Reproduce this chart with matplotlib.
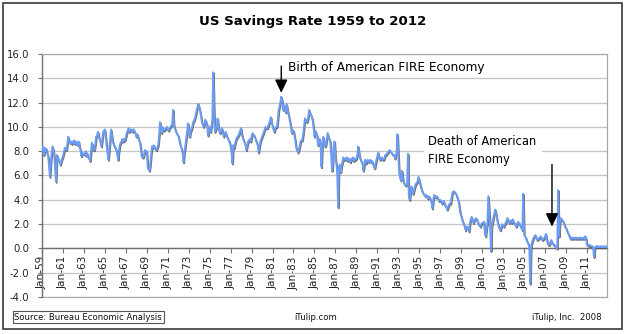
import numpy as np
import matplotlib
matplotlib.use('Agg')
import matplotlib.pyplot as plt
import matplotlib.patheffects as pe
from matplotlib.patches import Rectangle

plt.rcParams['font.family'] = 'DejaVu Sans'
plt.rcParams['axes.unicode_minus'] = False

# personal saving rate, percent, monthly from Jan 1959
rate_1959 = [8.0, 8.4, 7.7, 8.3, 8.0, 8.2, 7.8, 7.6, 6.8, 5.9, 7.0, 7.9]
rate_1960s = [
    8.4, 8.1, 7.6, 6.5, 5.5, 7.7, 7.5, 7.3, 7.1, 6.9, 7.2, 7.4,
    7.6, 7.9, 8.3, 8.2, 8.1, 8.6, 9.2, 8.9, 8.7, 8.8, 8.6, 8.8,
    8.7, 8.9, 8.6, 8.8, 8.7, 8.5, 8.8, 8.4, 8.1, 7.6, 7.9, 7.8,
    7.8, 7.7, 8.0, 7.6, 7.8, 7.5, 7.4, 7.2, 7.9, 8.7, 8.3, 8.1,
    8.1, 8.6, 9.2, 9.3, 9.6, 9.2, 9.0, 8.7, 8.4, 9.0, 9.6, 9.7,
    9.8, 9.1, 8.4, 7.8, 7.3, 8.2, 9.0, 9.8, 9.3, 8.8, 8.6, 8.4,
    8.3, 8.1, 7.8, 7.3, 8.0, 8.5, 8.7, 8.8, 9.0, 8.8, 9.0, 8.9,
    9.2, 9.5, 9.7, 9.9, 9.6, 9.8, 9.7, 9.8, 9.6, 9.8, 9.6, 9.5,
    9.2, 9.4, 9.2, 8.9, 8.8, 8.3, 7.6, 7.5, 7.5, 7.8, 8.1, 8.0,
    8.0, 6.7, 6.5, 6.4, 7.0, 7.8, 8.4, 8.3, 8.5, 8.3, 8.2, 8.1,
]
rate_1970s = [
    8.3, 8.5, 9.2, 10.4, 10.0, 9.5, 10.0, 9.8, 9.7, 9.8, 9.9, 10.0,
    9.8, 9.7, 9.9, 10.0, 10.1, 10.2, 11.4, 10.2, 9.9, 9.7, 9.5, 9.4,
    9.3, 9.0, 8.6, 8.4, 8.2, 7.8, 7.1, 7.9, 8.4, 9.0, 9.5, 10.3,
    9.8, 9.2, 9.6, 9.8, 10.0, 10.4, 10.5, 10.7, 11.0, 11.4, 11.6, 11.9,
    11.6, 11.3, 10.9, 10.4, 10.2, 10.0, 10.3, 10.6, 10.4, 10.2, 9.3, 9.8,
    10.0, 9.6, 10.1, 10.6, 14.5, 11.4, 9.6, 9.8, 10.0, 10.7, 10.1, 9.6,
    9.5, 9.7, 9.9, 9.6, 9.2, 9.4, 9.6, 9.4, 9.2, 9.0, 8.9, 8.7,
    8.4, 7.9, 7.0, 8.5, 8.3, 8.6, 8.9, 9.1, 9.2, 9.3, 9.5, 9.7,
    9.9, 9.3, 9.1, 8.9, 8.7, 8.5, 8.1, 8.5, 8.8, 8.9, 9.0, 8.8,
    9.2, 9.5, 9.4, 9.3, 9.1, 8.9, 8.7, 8.5, 7.9, 8.4, 8.8, 9.0,
]
rate_1980s = [
    9.2, 9.4, 9.6, 9.8, 10.0, 9.9, 9.9, 10.1, 10.3, 10.5, 10.8, 10.3,
    10.1, 9.8, 9.6, 9.9, 10.0, 10.0, 10.6, 11.4, 11.7, 12.1, 12.5, 12.2,
    11.4, 11.8, 11.5, 11.2, 11.9, 11.5, 11.1, 10.8, 10.4, 10.0, 9.5, 9.7,
    9.7, 9.3, 8.9, 8.3, 8.1, 7.9, 8.1, 8.4, 8.8, 8.9, 8.9, 9.4,
    10.0, 10.7, 10.5, 10.4, 10.5, 10.9, 11.4, 11.1, 11.0, 10.8, 10.5, 9.9,
    9.2, 9.7, 9.5, 9.3, 8.5, 8.8, 9.0, 8.4, 6.7, 8.5, 9.2, 8.8,
    8.4, 8.5, 9.0, 9.5, 9.2, 9.0, 8.8, 7.8, 6.4, 7.0, 8.4, 8.8,
    7.5, 7.0, 6.2, 3.4, 6.7, 6.9, 6.3, 6.8, 7.1, 7.5, 7.3, 7.4,
    7.3, 7.5, 7.2, 7.4, 7.3, 7.1, 7.4, 7.3, 7.5, 7.2, 7.4, 7.3,
    7.4, 7.7, 8.4, 7.9, 7.5, 7.3, 7.1, 7.0, 6.4, 6.9, 7.3, 7.0,
]
rate_1990s = [
    7.2, 7.3, 7.1, 7.2, 7.3, 7.1, 7.2, 7.0, 6.7, 6.6, 7.0, 7.3,
    7.6, 7.9, 7.5, 7.3, 7.4, 7.5, 7.3, 7.3, 7.4, 7.7, 7.7, 7.8,
    7.9, 8.0, 8.1, 8.0, 7.9, 7.8, 7.7, 7.7, 7.4, 7.6, 7.9, 9.4,
    7.8, 6.2, 5.8, 5.6, 6.4, 5.9, 5.5, 5.3, 5.2, 5.2, 5.3, 7.8,
    4.3, 4.0, 4.6, 5.1, 4.7, 4.5, 4.8, 5.1, 5.3, 5.4, 5.5, 5.9,
    5.6, 5.3, 5.0, 4.8, 4.6, 4.5, 4.4, 4.3, 4.4, 4.2, 4.1, 4.3,
    4.2, 4.0, 3.8, 3.3, 4.0, 4.4, 4.3, 4.2, 4.3, 4.2, 4.0, 3.9,
    4.0, 3.9, 3.7, 3.8, 3.9, 3.7, 3.5, 3.4, 3.2, 3.4, 3.6, 3.7,
    3.7, 4.2, 4.6, 4.7, 4.7, 4.6, 4.5, 4.3, 4.1, 3.9, 3.4, 2.9,
    2.7, 2.4, 2.2, 2.0, 1.8, 1.5, 1.7, 1.8, 1.6, 1.4, 2.1, 2.4,
]
rate_2000s = [
    2.6, 2.3, 2.1, 2.3, 2.4, 2.5, 2.4, 2.2, 2.0, 1.9, 1.8, 2.0,
    2.1, 2.1, 2.2, 1.3, 1.0, 1.6, 2.1, 4.3, 3.2, 2.1, -0.2, 1.8,
    2.2, 2.6, 2.9, 3.2, 2.9, 2.4, 2.1, 1.8, 1.6, 1.5, 1.8, 2.0,
    1.9, 1.8, 2.0, 2.1, 2.3, 2.5, 2.3, 2.1, 2.2, 2.3, 2.1, 2.4,
    2.2, 2.1, 1.9, 1.8, 2.0, 2.2, 2.1, 2.0, 1.8, 1.7, 1.5, 4.5,
    1.2, 1.0, 0.9, 0.7, 0.5, 0.4, 0.1, -2.9, 0.1, 0.5, 0.7, 0.9,
    1.0, 1.1, 0.9, 0.7, 0.8, 0.8, 0.9, 1.0, 0.8, 0.7, 0.8, 0.8,
    1.0, 1.2, 0.8, 0.4, 0.3, 0.3, 0.5, 0.7, 0.5, 0.4, 0.3, 0.3,
    0.1, 0.1, 0.0, 4.8, 1.0, 2.1, 2.5, 2.4, 2.3, 2.2, 2.0, 1.8,
    1.7, 1.5, 1.3, 1.2, 1.0, 0.8, 0.9, 0.8, 0.9, 0.8, 0.9, 0.8,
]
rate_2010s = [
    0.9, 0.8, 0.8, 0.9, 0.8, 0.9, 0.8, 0.8, 0.9, 0.8, 1.0, 0.9,
    0.3, 0.3, 0.2, 0.3, 0.2, 0.2, 0.2, 0.1, -0.7, 0.1, 0.1, 0.2,
    0.1, 0.2, 0.1, 0.1, 0.2, 0.1, 0.1, 0.2, 0.1, 0.1, 0.2, 0.1,
]

xlabels = ['Jan-59', 'Jan-61', 'Jan-63', 'Jan-65', 'Jan-67', 'Jan-69', 'Jan-71',
           'Jan-73', 'Jan-75', 'Jan-77', 'Jan-79', 'Jan-81', 'Jan-83', 'Jan-85',
           'Jan-87', 'Jan-89', 'Jan-91', 'Jan-93', 'Jan-95', 'Jan-97', 'Jan-99',
           'Jan-01', 'Jan-03', 'Jan-05', 'Jan-07', 'Jan-09', 'Jan-11']
yticks = [-4, -2, 0, 2, 4, 6, 8, 10, 12, 14, 16]

birth_text = 'Birth of American FIRE Economy'
birth_month, birth_tip, birth_tail = 274, 12.8, 15.0
death_text = 'Death of American\nFIRE Economy'
death_month, death_tip, death_tail = 584, 1.8, 6.9

rate = np.array(rate_1959 + rate_1960s + rate_1970s + rate_1980s
                + rate_1990s + rate_2000s + rate_2010s)
months = np.arange(len(rate))

W, H = 626, 334
fig = plt.figure(figsize=(W / 100, H / 100), dpi=100)
ax = fig.add_axes([42 / W, 1 - 297 / H, 565 / W, 243 / H])

ax.plot(months, rate, color='#6a9cf8', lw=1.3, zorder=3, solid_joinstyle='round',
        path_effects=[pe.SimpleLineShadow(offset=(0.5, -0.9), shadow_color='#505050', alpha=0.8),
                      pe.Normal()])

# x axis crosses at zero; moving the spine resets ticks, so do it first
ax.spines['bottom'].set_position(('data', 0))

ax.set_xlim(0, len(rate) - 1)
ax.set_ylim(-4, 16)
ax.set_yticks(yticks)
ax.set_yticklabels(['%.1f' % v for v in yticks])
ax.set_xticks(np.arange(len(xlabels)) * 24)
ax.set_xticklabels(xlabels)

ax.grid(axis='y', color='#c4c4c4', lw=0.9)
ax.set_axisbelow(True)

for s in ('bottom', 'left'):
    ax.spines[s].set_color('#707070')
    ax.spines[s].set_linewidth(1.0)
for s in ('top', 'right'):
    ax.spines[s].set_color('#a8a8a8')
    ax.spines[s].set_linewidth(0.9)
ax.plot([0, 1], [0, 0], transform=ax.transAxes, color='#a8a8a8', lw=0.9, clip_on=False)

ax.tick_params(axis='y', length=3, width=0.8, color='#707070', pad=6,
               labelsize=7.3, labelcolor='#222222')
ax.tick_params(axis='x', length=3.5, width=0.8, color='#707070', pad=2,
               labelsize=7.6, labelcolor='#222222', labelrotation=90)

# arrows and their notes
arrow_kw = dict(arrowstyle='-|>,head_length=0.8,head_width=0.38', color='black',
                lw=1.0, shrinkA=0, shrinkB=0, mutation_scale=10)
ax.annotate('', xy=(birth_month, birth_tip), xytext=(birth_month, birth_tail),
            arrowprops=arrow_kw, zorder=5)
ax.text(282, 14.87, birth_text, fontsize=8.7, va='center', ha='left', color='black')

ax.annotate('', xy=(death_month, death_tip), xytext=(death_month, death_tail),
            arrowprops=arrow_kw, zorder=5)
ax.text(442.5, 8.05, death_text, fontsize=8.3, va='center', ha='left', color='black',
        linespacing=1.45, zorder=2,
        bbox=dict(facecolor='white', edgecolor='none', pad=3.5))

fig.text(0.5, 1 - 21.5 / H, 'US Savings Rate 1959 to 2012', ha='center', va='center',
         fontsize=9.6, fontweight='bold')
fig.text(14.5 / W, 1 - 317 / H, 'Source: Bureau Economic Analysis', ha='left', va='center',
         fontsize=6.1, color='#111111',
         bbox=dict(facecolor='white', edgecolor='#555555', lw=0.8, pad=1.3))
fig.text(316 / W, 1 - 317 / H, 'iTulip.com', ha='center', va='center', fontsize=6.1,
         color='#111111')
fig.text(602 / W, 1 - 317 / H, 'iTulip, Inc.  2008', ha='right', va='center', fontsize=6.1,
         color='#111111')

fig.add_artist(Rectangle((3 / W, 1 - 329 / H), 619 / W, 326 / H, transform=fig.transFigure,
                         fill=False, edgecolor='#3a3a3a', lw=1.2))

fig.savefig('out.png', dpi=100, facecolor='white')
